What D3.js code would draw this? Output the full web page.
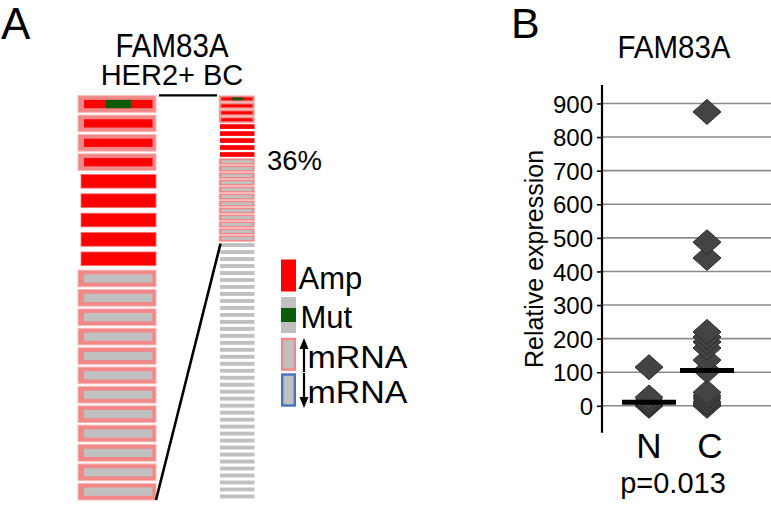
<!DOCTYPE html>
<html><head><meta charset="utf-8">
<script src="https://cdn.jsdelivr.net/npm/d3@7"></script>
<style>body{margin:0;background:#fff}svg{display:block}text{font-family:"Liberation Sans",Arial,sans-serif;fill:#000}</style>
</head><body><svg id="c" width="771" height="506"></svg>
<script>
// ---------- Panel A data ----------
const geneName = "FAM83A";
const cohort = "HER2+ BC";
const totalCases = 58;
// altered cases (expanded on the left), top to bottom
const caseAmp     = [1,1,1,1,1,1,1,1,1, 0,0,0,0,0,0,0,0,0,0,0,0];
const caseMrnaUp  = [1,1,1,1,0,0,0,0,0, 1,1,1,1,1,1,1,1,1,1,1,1];
const caseMut     = [1,0,0,0,0,0,0,0,0, 0,0,0,0,0,0,0,0,0,0,0,0];
const alteredLabel = "36%";
const legendLabels = ["Amp","Mut","mRNA","mRNA"];
// ---------- Panel B data ----------
const groups = ["N","C"];
const valuesN = [115, 25, 15, 8, 3, 0];
const valuesC = [875, 487, 440, 220, 205, 190, 172, 136, 105, 40, 30, 22, 12, 6, 0];
const medians = [11, 105];
const yTicks = [0,100,200,300,400,500,600,700,800,900];
const pLabel = "p=0.013";

const RED="#ff0000", GRAY="#c0c0c0", GREEN="#0a5c0a", PINK="#f28787", BLUE="#4a72c0";
const svg = d3.select("#c");

// Panel letters
svg.append("text").attr("x",1).attr("y",39).attr("font-size",44).text("A");
svg.append("text").attr("x",511).attr("y",38).attr("font-size",43).text("B");

// ---------- Panel A ----------
svg.append("text").attr("transform","translate(172,57) scale(1,1.1)").attr("text-anchor","middle").attr("font-size",29.5).text(geneName);
svg.append("text").attr("x",172).attr("y",85).attr("text-anchor","middle").attr("font-size",29).text(cohort);

const nAlt = caseAmp.length;
const cases = d3.range(totalCases).map(i => ({
  amp: i < nAlt ? caseAmp[i] : 0, up: i < nAlt ? caseMrnaUp[i] : 0, mut: i < nAlt ? caseMut[i] : 0
}));

// left expanded column
const yL = d3.scaleBand().domain(d3.range(nAlt)).range([95.7, 500]).paddingInner(0.14).paddingOuter(0);
const xL0 = 78, xL1 = 156;
const gL = svg.append("g");
cases.slice(0,nAlt).forEach((d,i) => {
  const y0 = yL(i), h = yL.bandwidth();
  if (d.up) {
    gL.append("rect").attr("x",xL0).attr("y",y0).attr("width",xL1-xL0).attr("height",h)
      .attr("fill",PINK).attr("stroke","#f8b8b8").attr("stroke-width",1);
    gL.append("rect").attr("x",xL0+6).attr("y",y0+4.2).attr("width",xL1-xL0-9.5).attr("height",h-8.4)
      .attr("fill",d.amp?RED:GRAY);
    if (d.mut) gL.append("rect").attr("x",105.7).attr("y",y0+4.2).attr("width",25.3).attr("height",h-8.4).attr("fill",GREEN);
  } else if (d.amp) {
    gL.append("rect").attr("x",xL0+3).attr("y",y0+1.2).attr("width",xL1-xL0-3).attr("height",h-3)
      .attr("fill",RED).attr("stroke","#ff7070").attr("stroke-width",0.8);
  }
});

// right overview column
const yR = d3.scaleBand().domain(d3.range(totalCases)).range([95.7, 500]).paddingInner(0.1).paddingOuter(0);
const xR0 = 219, xR1 = 254.5;
const gR = svg.append("g");
cases.forEach((d,i) => {
  const y0 = yR(i), h = yR.bandwidth();
  if (d.up) {
    gR.append("rect").attr("x",xR0).attr("y",y0).attr("width",xR1-xR0).attr("height",h)
      .attr("fill",PINK).attr("stroke","#f8c0c0").attr("stroke-width",0.6);
    gR.append("rect").attr("x",xR0+2.3).attr("y",y0+1.7).attr("width",xR1-xR0-4.3).attr("height",h-3.4)
      .attr("fill",d.amp?RED:GRAY);
    if (d.mut) gR.append("rect").attr("x",231.7).attr("y",y0+1.7).attr("width",11.6).attr("height",h-3.4).attr("fill",GREEN);
  } else if (d.amp) {
    gR.append("rect").attr("x",xR0+1).attr("y",y0+0.6).attr("width",xR1-xR0-1).attr("height",h-1.6).attr("fill",RED);
  } else {
    gR.append("rect").attr("x",xR0+1).attr("y",y0+0.8).attr("width",xR1-xR0-1).attr("height",h-2.4).attr("fill",GRAY);
  }
});

// connector lines
svg.append("line").attr("x1",159).attr("y1",95.3).attr("x2",217).attr("y2",95.3).attr("stroke","#000").attr("stroke-width",2.2);
const altEnd = yR(nAlt-1) + yR.bandwidth();
svg.append("line").attr("x1",220.5).attr("y1",altEnd+2).attr("x2",156).attr("y2",yL(nAlt-1)+yL.bandwidth())
  .attr("stroke","#000").attr("stroke-width",2.6);

svg.append("text").attr("x",267).attr("y",169.5).attr("font-size",27.5).text(alteredLabel);

// legend
const lg = svg.append("g");
lg.append("rect").attr("x",281).attr("y",259.5).attr("width",15).attr("height",32).attr("fill",RED);
lg.append("rect").attr("x",281).attr("y",297).attr("width",15).attr("height",36).attr("fill",GRAY);
lg.append("rect").attr("x",281).attr("y",308).attr("width",15).attr("height",14).attr("fill",GREEN);
lg.append("rect").attr("x",282.2).attr("y",339).attr("width",12.6).attr("height",30.6).attr("fill",GRAY).attr("stroke",PINK).attr("stroke-width",2.4);
lg.append("rect").attr("x",282.2).attr("y",374.5).attr("width",12.6).attr("height",31).attr("fill",GRAY).attr("stroke",BLUE).attr("stroke-width",2.4);
// arrows
lg.append("line").attr("x1",304).attr("x2",304).attr("y1",347).attr("y2",372).attr("stroke","#000").attr("stroke-width",2.2);
lg.append("path").attr("d","M304,338 L299.5,349 L308.5,349 Z").attr("fill","#000");
lg.append("line").attr("x1",304).attr("x2",304).attr("y1",373).attr("y2",398).attr("stroke","#000").attr("stroke-width",2.2);
lg.append("path").attr("d","M304,408 L299.5,397 L308.5,397 Z").attr("fill","#000");
lg.append("text").attr("x",298.5).attr("y",289).attr("font-size",31).text(legendLabels[0]);
lg.append("text").attr("x",300.5).attr("y",328).attr("font-size",31).text(legendLabels[1]);
lg.append("text").attr("x",307.5).attr("y",368).attr("font-size",31).attr("textLength",100).attr("lengthAdjust","spacingAndGlyphs").text(legendLabels[2]);
lg.append("text").attr("x",307.5).attr("y",403).attr("font-size",31).attr("textLength",100).attr("lengthAdjust","spacingAndGlyphs").text(legendLabels[3]);

// ---------- Panel B ----------
const y = d3.scaleLinear().domain([-80, 955]).range([432.7, 85]);
const x = d3.scalePoint().domain(groups).range([649, 707]);
const axX = 602;

svg.append("text").attr("transform","translate(674,58) scale(1,1.08)").attr("text-anchor","middle").attr("font-size",29.5).text(geneName);

const grid = svg.append("g");
grid.selectAll("line").data(yTicks).join("line")
  .attr("x1",axX).attr("x2",771).attr("y1",d=>y(d)).attr("y2",d=>y(d))
  .attr("stroke","#8a8a8a").attr("stroke-width",1.6);

const ax = svg.append("g").attr("transform",`translate(${axX},0)`)
  .call(d3.axisLeft(y).tickValues(yTicks).tickSize(5).tickPadding(4).tickFormat(d3.format("d")));
ax.select(".domain").remove();
ax.selectAll(".tick line").attr("stroke","#000").attr("stroke-width",1.6);
ax.selectAll(".tick text").attr("font-size",24).attr("font-family","Liberation Sans, Arial, sans-serif").attr("dy","0.36em");
svg.append("line").attr("x1",axX).attr("x2",axX).attr("y1",y(955)).attr("y2",y(-80)).attr("stroke","#000").attr("stroke-width",2.2);

svg.append("text").attr("transform",`translate(543,259) rotate(-90)`).attr("text-anchor","middle").attr("font-size",25).text("Relative expression");

const pts = [];
valuesN.forEach(v => pts.push({g:"N", v}));
valuesC.forEach(v => pts.push({g:"C", v}));
const hw = 14, hh = 12.5;
svg.append("g").selectAll("path").data(pts.slice().sort((a,b)=>a.v-b.v)).join("path")
  .attr("d", d => { const cx=x(d.g), cy=y(d.v); return `M${cx},${cy-hh} L${cx+hw},${cy} L${cx},${cy+hh} L${cx-hw},${cy} Z`; })
  .attr("fill","#444").attr("stroke","#2a2a2a").attr("stroke-width",1);

svg.append("g").selectAll("line").data(groups).join("line")
  .attr("x1",d=>x(d)-27).attr("x2",d=>x(d)+27)
  .attr("y1",(d,i)=>y(medians[i])).attr("y2",(d,i)=>y(medians[i]))
  .attr("stroke","#000").attr("stroke-width",5);

svg.append("g").selectAll("text").data(groups).join("text")
  .attr("x",(d,i)=>x(d)+(i?3:0)).attr("y",458).attr("text-anchor","middle").attr("font-size",35).text(d=>d);
svg.append("text").attr("x",673).attr("y",493).attr("text-anchor","middle").attr("font-size",29).text(pLabel);
</script></body></html>
